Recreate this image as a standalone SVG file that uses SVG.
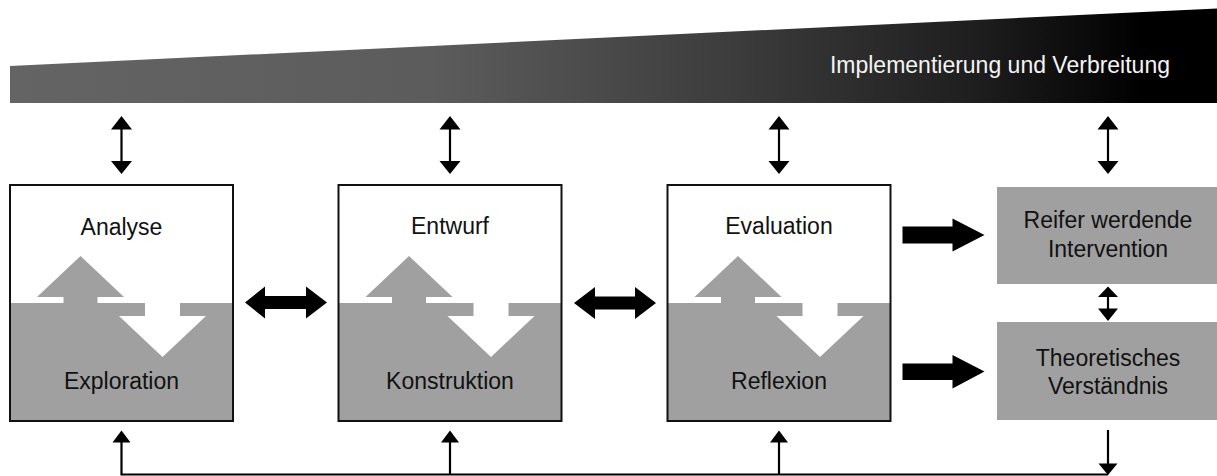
<svg xmlns="http://www.w3.org/2000/svg" width="1217" height="476" viewBox="0 0 1217 476">
<defs>
<linearGradient id="wedgeGrad" gradientUnits="userSpaceOnUse" x1="10" y1="0" x2="1217" y2="0">
<stop offset="0" stop-color="#646464"/>
<stop offset="0.35" stop-color="#5c5c5c"/>
<stop offset="0.6" stop-color="#3c3c3c"/>
<stop offset="0.8" stop-color="#1e1e1e"/>
<stop offset="0.94" stop-color="#000"/>
<stop offset="1" stop-color="#000"/>
</linearGradient>
<g id="boxShape">
<rect x="0" y="0" width="223" height="236" fill="#fff"/>
<rect x="0" y="118" width="223" height="118" fill="#a0a0a0"/>
<polygon points="135,118 170,118 170,131 196,131 152.5,172 109,131 135,131" fill="#fff"/>
<polygon points="53.5,118 53.5,112 27,112 70.5,71 114,112 87.5,112 87.5,118" fill="#a0a0a0"/>
<rect x="0" y="0" width="223" height="236" fill="none" stroke="#111" stroke-width="2"/>
</g>
</defs>
<style>
.lbl{font-family:"Liberation Sans",Arial,sans-serif;font-size:23px;fill:#111;text-anchor:middle}
.wlbl{font-family:"Liberation Sans",Arial,sans-serif;font-size:23px;fill:#f4f4f4;text-anchor:end}
.gbox{fill:#a0a0a0}
.ln{stroke:#000;stroke-width:2.2;fill:none}
.hd{fill:#000}
</style>

<g id="wedge">
<polygon points="10,66 1217,8.5 1217,103 10,103" fill="url(#wedgeGrad)"/>
<text class="wlbl" x="1170" y="73">Implementierung und Verbreitung</text>
</g>

<g id="analyse" transform="translate(10,185)">
<use href="#boxShape"/>
<text class="lbl" x="111.5" y="50">Analyse</text>
<text class="lbl" x="111.5" y="203.5">Exploration</text>
</g>

<g id="entwurf" transform="translate(338.5,185)">
<use href="#boxShape"/>
<text class="lbl" x="111.5" y="49">Entwurf</text>
<text class="lbl" x="111.5" y="203.5">Konstruktion</text>
</g>

<g id="evaluation" transform="translate(667.5,185)">
<use href="#boxShape"/>
<text class="lbl" x="111.5" y="49">Evaluation</text>
<text class="lbl" x="111.5" y="203.5">Reflexion</text>
</g>

<g id="intervention">
<rect class="gbox" x="997" y="187" width="222" height="97"/>
<text class="lbl" x="1108" y="228">Reifer werdende</text>
<text class="lbl" x="1108" y="257">Intervention</text>
</g>

<g id="verstaendnis">
<rect class="gbox" x="997" y="322" width="222" height="98"/>
<text class="lbl" x="1108" y="366">Theoretisches</text>
<text class="lbl" x="1108" y="394">Verständnis</text>
</g>

<g id="connectors">
<g>
<line class="ln" x1="121.5" y1="127" x2="121.5" y2="163"/>
<polygon class="hd" points="121.5,116 132,129.5 111,129.5"/>
<polygon class="hd" points="121.5,174 132,161 111,161"/>
<line class="ln" x1="450" y1="127" x2="450" y2="163"/>
<polygon class="hd" points="450,116 460.5,129.5 439.5,129.5"/>
<polygon class="hd" points="450,174 460.5,161 439.5,161"/>
<line class="ln" x1="779" y1="127" x2="779" y2="163"/>
<polygon class="hd" points="779,116 789.5,129.5 768.5,129.5"/>
<polygon class="hd" points="779,174 789.5,161 768.5,161"/>
<line class="ln" x1="1108" y1="127" x2="1108" y2="163"/>
<polygon class="hd" points="1108,116 1118.5,129.5 1097.5,129.5"/>
<polygon class="hd" points="1108,174 1118.5,161 1097.5,161"/>
</g>
<polygon class="hd" points="245,302.5 265,286.5 265,296 306,296 306,286.5 327,302.5 306,318.5 306,309 265,309 265,318.5"/>
<polygon class="hd" points="574,303 595,287 595,296.5 635,296.5 635,287 656,303 635,319 635,309.5 595,309.5 595,319"/>
<polygon class="hd" points="902.5,226.5 952.5,226.5 952.5,218.5 984.5,235 952.5,251.5 952.5,243.5 902.5,243.5"/>
<polygon class="hd" points="902.5,363.5 952.5,363.5 952.5,355 984.5,371.5 952.5,388.5 952.5,380 902.5,380"/>
<line class="ln" x1="1108" y1="295" x2="1108" y2="311"/>
<polygon class="hd" points="1108,286.5 1118,297 1098,297"/>
<polygon class="hd" points="1108,321 1118,308.5 1098,308.5"/>
<polyline class="ln" points="121.5,440 121.5,474.5 1108,474.5"/>
<line class="ln" x1="450" y1="440" x2="450" y2="474.5"/>
<line class="ln" x1="779" y1="440" x2="779" y2="474.5"/>
<polygon class="hd" points="121.5,430.5 130.5,442.5 112.5,442.5"/>
<polygon class="hd" points="450,430.5 459,442.5 441,442.5"/>
<polygon class="hd" points="779,430.5 788,442.5 770,442.5"/>
<line class="ln" x1="1108" y1="430" x2="1108" y2="466"/>
<polygon class="hd" points="1108,475 1117.5,463.5 1098.5,463.5"/>
</g>
</svg>
